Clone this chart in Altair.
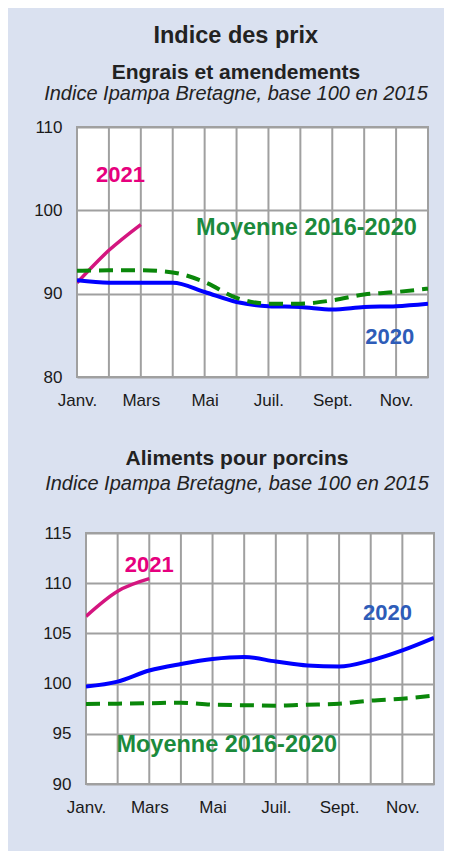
import altair as alt
import pandas as pd

# ---- data ----
months = ["Janv.", "Févr.", "Mars", "Avr.", "Mai", "Juin", "Juil.", "Août", "Sept.", "Oct.", "Nov.", "Déc."]
shown_months = ["Janv.", "Mars", "Mai", "Juil.", "Sept.", "Nov."]
month_num = list(range(1, 13))

# Engrais et amendements
engrais_2021 = [91.3, 95.2, 98.3]
engrais_2020 = [91.6, 91.3, 91.3, 91.3, 90.2, 89.0, 88.5, 88.4, 88.1, 88.4, 88.5, 88.8]
engrais_moy = [92.75, 92.8, 92.8, 92.55, 91.4, 89.5, 88.8, 88.8, 89.2, 89.9, 90.2, 90.6]

# Aliments pour porcins
porcins_2021 = [106.7, 109.2, 110.45]
porcins_2020 = [99.7, 100.2, 101.3, 101.95, 102.45, 102.65, 102.2, 101.8, 101.7, 102.3, 103.3, 104.55]
porcins_moy = [97.97, 98.0, 98.05, 98.1, 97.9, 97.85, 97.8, 97.9, 98.0, 98.3, 98.5, 98.8]

series_names = ["2021", "2020", "Moyenne 2016-2020"]

# annotation anchors (month position, value)
engrais_lab_month = [2.36, 10.8, 8.19]
engrais_lab_value = [104.2, 84.8, 97.85]
porcins_lab_month = [3.0, 10.53, 5.45]
porcins_lab_value = [111.85, 107.0, 93.9]

engrais_ticks = [80, 90, 100, 110]
porcins_ticks = [90, 95, 100, 105, 110, 115]

# ---- styles ----
FONT = "Liberation Sans"
BG = "#dae1f0"
GRID = "#a0a0a0"
line_colors = {"2021": "#d4157f", "2020": "#0000ff", "Moyenne 2016-2020": "#0a870a"}
text_colors = {"2021": "#e6007e", "2020": "#2e5cb8", "Moyenne 2016-2020": "#1b8a3c"}
text_sizes = {"2021": 22, "2020": 22, "Moyenne 2016-2020": 23.5}

label_expr = "[" + ",".join(
    "'" + (m if m in shown_months else "") + "'" for m in months
) + "][datum.value-1]"


def series_df(v2021, v2020, vmoy):
    rows = []
    for name, vals in zip(series_names, [v2021, v2020, vmoy]):
        for m, v in zip(month_num, vals):
            rows.append({"month": m, "value": v, "series": name})
    return pd.DataFrame(rows)


def panel(df, lab_month, lab_value, ydom, yticks, width, height, title, subtitle,
          tdx, toffset, tsubpad):
    x = alt.X("month:Q", scale=alt.Scale(domain=[1, 12], nice=False),
              axis=alt.Axis(values=month_num, labelExpr=label_expr, title=None,
                            grid=False, domain=False,
                            ticks=False, labelPadding=15, labelFontSize=17,
                            labelFont=FONT, labelColor="#1a1a1a", labelFlush=False,
                            labelOverlap=False))
    y = alt.Y("value:Q", scale=alt.Scale(domain=ydom, nice=False, zero=False),
              axis=alt.Axis(values=yticks, title=None, grid=True, gridColor=GRID,
                            gridWidth=2, domain=False, ticks=False, labelPadding=15,
                            labelFontSize=17, labelFont=FONT, labelColor="#1a1a1a",
                            minExtent=44, labelFlush=False))
    grid = alt.Chart(pd.DataFrame({"month": month_num})).mark_rule(
        color=GRID, strokeWidth=2).encode(x=x)
    layers = [grid]
    for name in series_names:
        sub = df[df["series"] == name]
        kw = dict(color=line_colors[name], strokeWidth=4 if name != "2021" else 3.5,
                  interpolate="monotone", clip=True)
        if name.startswith("Moyenne"):
            kw["strokeDash"] = [14, 8]
        layers.append(alt.Chart(sub).mark_line(**kw).encode(x=x, y=y))
    lab = pd.DataFrame({"month": lab_month, "value": lab_value, "series": series_names})
    for name in series_names:
        layers.append(
            alt.Chart(lab[lab["series"] == name]).mark_text(
                font=FONT, fontSize=text_sizes[name], fontWeight="bold",
                color=text_colors[name], align="center", baseline="middle"
            ).encode(x="month:Q", y="value:Q", text="series:N")
        )
    return alt.layer(*layers).properties(
        width=width, height=height,
        view=alt.ViewBackground(fill="white", stroke=GRID, strokeWidth=2),
        title=alt.Title(title, subtitle=subtitle, font=FONT, fontSize=21,
                        fontWeight="bold", color="#222222", subtitleFont=FONT,
                        subtitleFontSize=20, subtitleFontStyle="italic",
                        subtitleColor="#222222", anchor="middle", dx=tdx,
                        offset=toffset, subtitlePadding=tsubpad),
    )


def spacer(w):
    return alt.Chart(pd.DataFrame({"v": [0]})).mark_point(
        opacity=0, size=0, strokeWidth=0
    ).encode(
        x=alt.X("v:Q", axis=None), y=alt.Y("v:Q", axis=None)
    ).properties(width=w, height=1,
                 view=alt.ViewBackground(fill="transparent", stroke="transparent"))


top = panel(series_df(engrais_2021, engrais_2020, engrais_moy),
            engrais_lab_month, engrais_lab_value, [80, 110], engrais_ticks,
            351, 250, "Engrais et amendements",
            "Indice Ipampa Bretagne, base 100 en 2015", -16.5, 14, 1)
bottom = panel(series_df(porcins_2021, porcins_2020, porcins_moy),
               porcins_lab_month, porcins_lab_value, [90, 115], porcins_ticks,
               348, 251, "Aliments pour porcins",
               "Indice Ipampa Bretagne, base 100 en 2015", -23, 30, 5.5)

row1 = alt.hconcat(spacer(1), top, spacing=0)
row2 = alt.hconcat(spacer(10), bottom, spacing=0)

chart = alt.vconcat(
    row1, row2, spacing=37,
    title=alt.Title("Indice des prix", font=FONT, fontSize=23.5, fontWeight="bold",
                    color="#222222", anchor="middle", offset=14, dx=3),
).properties(
    background=BG,
    padding={"left": 21, "top": 15, "right": 8, "bottom": 35},
).configure_view(stroke="transparent")

chart.save("out.html", embed_options={"renderer": "svg", "actions": False})
